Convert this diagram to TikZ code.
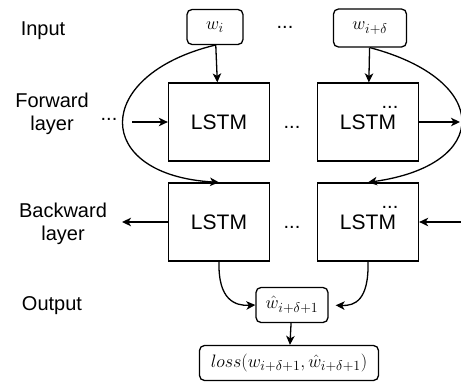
\RequirePackage{fix-cm}
\documentclass[tikz,border=0pt]{standalone}
\usepackage{fontspec}
\setmainfont{Liberation Sans}
\usepackage{amsmath}
\usetikzlibrary{arrows.meta, positioning}
\DeclareMathSizes{18}{18}{14}{10}

\begin{document}
\begin{tikzpicture}[x=1pt, y=-1pt, line width=1.3pt,
	>={Stealth[length=9pt,width=8.5pt,inset=2.5pt]},
	lstm/.style={draw, minimum width=101pt, minimum height=78pt, font=\fontsize{21}{25}\selectfont},
	word/.style={draw, rounded corners=5pt, inner sep=1pt, font=\fontsize{18}{21}\selectfont},
	lbl/.style={align=center, font=\fontsize{20}{23}\selectfont},
	dotsnode/.style={anchor=base, inner sep=0pt, font=\fontsize{20}{24}\selectfont}]
			\useasboundingbox (0,0) rectangle (461,381);
			% layer labels
			\node(input) [lbl] at (43,31) {Input};
			\node(fwd) [lbl] at (52,114) {Forward\\layer};
			\node(bwd) [lbl] at (63,224) {Backward\\layer};
			\node(output) [lbl] at (52,306) {Output};
			% inputs
			\node(wi) [word, minimum width=56pt, minimum height=35pt] at (215,27) {$w_i$};
			\node(wd) [word, minimum width=73pt, minimum height=38pt] at (370,28) {$w_{i+\delta}$};
			\node(indots) [dotsnode] at (285,28) {...};
			% forward layer
			\node(f1) [lstm] at (219,122) {LSTM};
			\node(f2) [lstm] at (368,122) {LSTM};
			\node(fdots) [dotsnode] at (292,128) {...};
			\node(fldots) [dotsnode] at (109,120) {...};
			\node(fsmall) [dotsnode] at (390,108) {...};
			\coordinate(fin) at (132,122);
			\coordinate(fout) at (460,122);
			% backward layer
			\node(b1) [lstm] at (219,222) {LSTM};
			\node(b2) [lstm] at (368,222) {LSTM};
			\node(bdots) [dotsnode] at (292,228) {...};
			\node(bsmall) [dotsnode] at (390,208) {...};
			\coordinate(bin) at (461,222);
			\coordinate(bout) at (122,222);
			% output
			\node(what) [word, minimum width=72pt, minimum height=35pt] at (292,305) {$\hat{w}_{i+\delta+1}$};
			\node(loss) [word, minimum width=179pt, minimum height=35pt] at (289,363) {$loss(w_{i+\delta+1},\hat{w}_{i+\delta+1})$};

			\draw[->] (wi) -- (f1);
			\draw[->] (wd) -- (f2);
			\draw[->] (fin) -- (f1);
			\draw[->] (f2) -- (fout);
			\draw[->] (b1) -- (bout);
			\draw[->] (bin) -- (b2);
			\draw[->] (wi.south) .. controls (92,75) and (92,175) .. (b1.north);
			\draw[->] (wd.south) .. controls (492,80) and (492,165) .. (b2.north);
			\draw[->] (b1.south) .. controls (218,300) and (235,306) .. (what.west);
			\draw[->, shorten >=7pt] (b2.south) .. controls (369,300) and (355,306) .. (what.east);
			\draw[->] (what) -- (loss);
\end{tikzpicture}
\end{document}
